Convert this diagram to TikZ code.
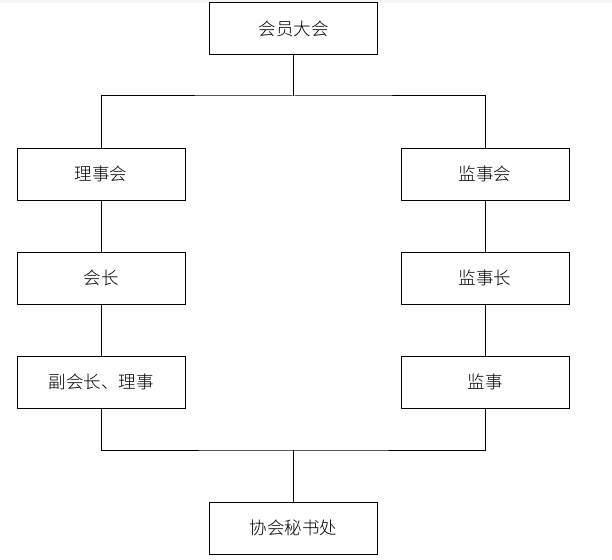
\documentclass[tikz,border=0pt]{standalone}
\usepackage{fontspec}
\newfontfamily\cjk{Noto Sans CJK SC Light}
\begin{document}
\begin{tikzpicture}[x=1pt,y=-1pt,
  orgbox/.style={draw=black,line width=1pt,minimum width=168pt,minimum height=52pt,inner sep=0pt,font=\cjk\fontsize{17.5}{20}\selectfont,anchor=center},
  link/.style={draw=black,line width=1pt}]
\useasboundingbox (0,0) rectangle (612,559);
\fill[gray!8] (0,0) rectangle (612,3);
\node[orgbox] (top) at (293.5,29) {会员大会};
\node[orgbox] (lsh) at (101,174) {理事会};
\node[orgbox] (jsh) at (485,174) {监事会};
\node[orgbox] (hz) at (101,278) {会长};
\node[orgbox] (jsz) at (485,278) {监事长};
\node[orgbox] (fhz) at (101,382) {副会长、理事};
\node[orgbox] (js) at (485,382) {监事};
\node[orgbox] (msc) at (293.5,528) {协会秘书处};
\coordinate (tj) at (293.5,96);
\coordinate (bj) at (293.5,450);
\path[link] (top.south) -- (tj);
\path[link] (lsh.north) |- (tj) -| (jsh.north);
\path[link] (lsh) -- (hz) -- (fhz);
\path[link] (jsh) -- (jsz) -- (js);
\path[link] (fhz.south) |- (bj) -| (js.south);
\path[link] (bj) -- (msc.north);
\end{tikzpicture}
\end{document}
